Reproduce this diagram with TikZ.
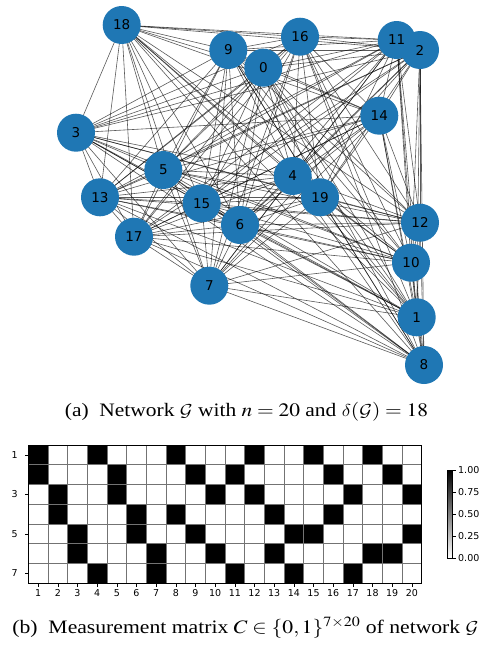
\documentclass[tikz,border=0pt]{standalone}
\usepackage{mathptmx}
\DeclareMathAlphabet{\mathcal}{OMS}{cmsy}{m}{n}
\DeclareSymbolFont{cmletters}{OML}{cmm}{m}{it}
\DeclareMathSymbol{\delta}{\mathord}{cmletters}{"0E}
\usepackage{fontspec}
\setmainfont{Liberation Serif}
\newfontfamily\dejavu{DejaVu Sans}
\usepackage{tikz}
\usetikzlibrary{backgrounds}
\definecolor{nodeblue}{HTML}{1F77B4}
\tikzset{
  netNode/.style={circle, fill=nodeblue, minimum size=38pt, inner sep=0pt,
    font=\dejavu\fontsize{13.5}{14}\selectfont},
  netEdge/.style={draw=black, draw opacity=0.65, line width=0.6pt},
  matCell/.style={fill=black},
  matGrid/.style={draw=black!55, line width=0.7pt},
  tickLabel/.style={inner sep=0pt, font=\dejavu\fontsize{9.5}{10}\selectfont},
  capText/.style={transform shape, font=\fontsize{19}{22}\selectfont}
}

\begin{document}
\begin{tikzpicture}[x=1pt,y=-1pt]
  \useasboundingbox (0,0) rectangle (486,648);

  % network nodes
  \foreach \id/\px/\py in {0/263.3/67.7, 1/416.7/317.3, 2/420/50, 3/76/132.7,
      4/292.7/176, 5/163.3/170, 6/240/225, 7/209.3/285.7, 8/424/365,
      9/228.3/50, 10/411/262.7, 11/396.7/40, 12/420/222.7, 13/100/197.3,
      14/379.3/115.7, 15/201.7/203.3, 16/300/36.7, 17/134/236.7,
      18/121.7/25, 19/320/197.3}
    \node[netNode] (n\id) at (\px,\py) {\id};

  % edges behind the nodes
  \begin{pgfonlayer}{background}
    \foreach \i in {0,...,18} {
      \pgfmathtruncatemacro\first{\i+1}
      \foreach \j in {\first,...,19} {
        \pgfmathtruncatemacro\gap{(\i==2)&&(\j==11)}
        \ifnum\gap=0
          \draw[netEdge] (n\i.center) -- (n\j.center);
        \fi
      }
    }
  \end{pgfonlayer}

  \node[capText, xscale=1.13] (capA) at (246.5,412)
    {(a)\ \ Network $\mathcal{G}$ with $n=20$ and $\delta(\mathcal{G})=18$};

  % measurement matrix
  \begin{scope}[shift={(28.3,445)}, x=19.67pt, y=-19.76pt]
    \foreach \r/\cols in {1/{1,4,8,12,15,18}, 2/{1,5,9,11,16,19},
        3/{2,5,10,12,17,20}, 4/{2,6,8,13,16}, 5/{3,6,9,14,15,20},
        6/{3,7,10,13,18,19}, 7/{4,7,11,14,17}}
      \foreach \c in \cols
        \fill[matCell] (\c-1,\r-1) rectangle (\c,\r);
    \foreach \c in {1,...,19}
      \draw[matGrid] (\c,0) -- (\c,7);
    \foreach \r in {1,...,6}
      \draw[matGrid] (0,\r) -- (20,\r);
    \draw[line width=0.8pt] (0,0) rectangle (20,7);
    % axis ticks
    \foreach \r in {1,3,5,7} {
      \draw[line width=0.6pt] (0,\r-0.5) -- ++(-3.5pt,0);
      \node[tickLabel, anchor=east] (row\r) at ([xshift=-10.5pt]0,\r-0.5) {\r};
    }
    \foreach \c in {1,...,20} {
      \draw[line width=0.6pt] (\c-0.5,7) -- ++(0,-3.5pt);
      \node[tickLabel, anchor=north] (col\c) at ([yshift=-6pt]\c-0.5,7) {\c};
    }
  \end{scope}

  % colour bar
  \shade[top color=black, bottom color=white] (447,470) rectangle (452.5,558);
  \draw[line width=0.5pt] (447,470) rectangle (452.5,558);
  \foreach \val/\yy in {1.00/470, 0.75/492, 0.50/514, 0.25/536, 0.00/558} {
    \draw[line width=0.5pt] (452.5,\yy) -- ++(3pt,0);
    \node[tickLabel, anchor=west] at (458,\yy) {\val};
  }

  \node[capText, xscale=1.14] (capB) at (245.5,628)
    {(b)\ \ Measurement matrix $C\in\{0,1\}^{7\times 20}$ of network $\mathcal{G}$};
\end{tikzpicture}
\end{document}
